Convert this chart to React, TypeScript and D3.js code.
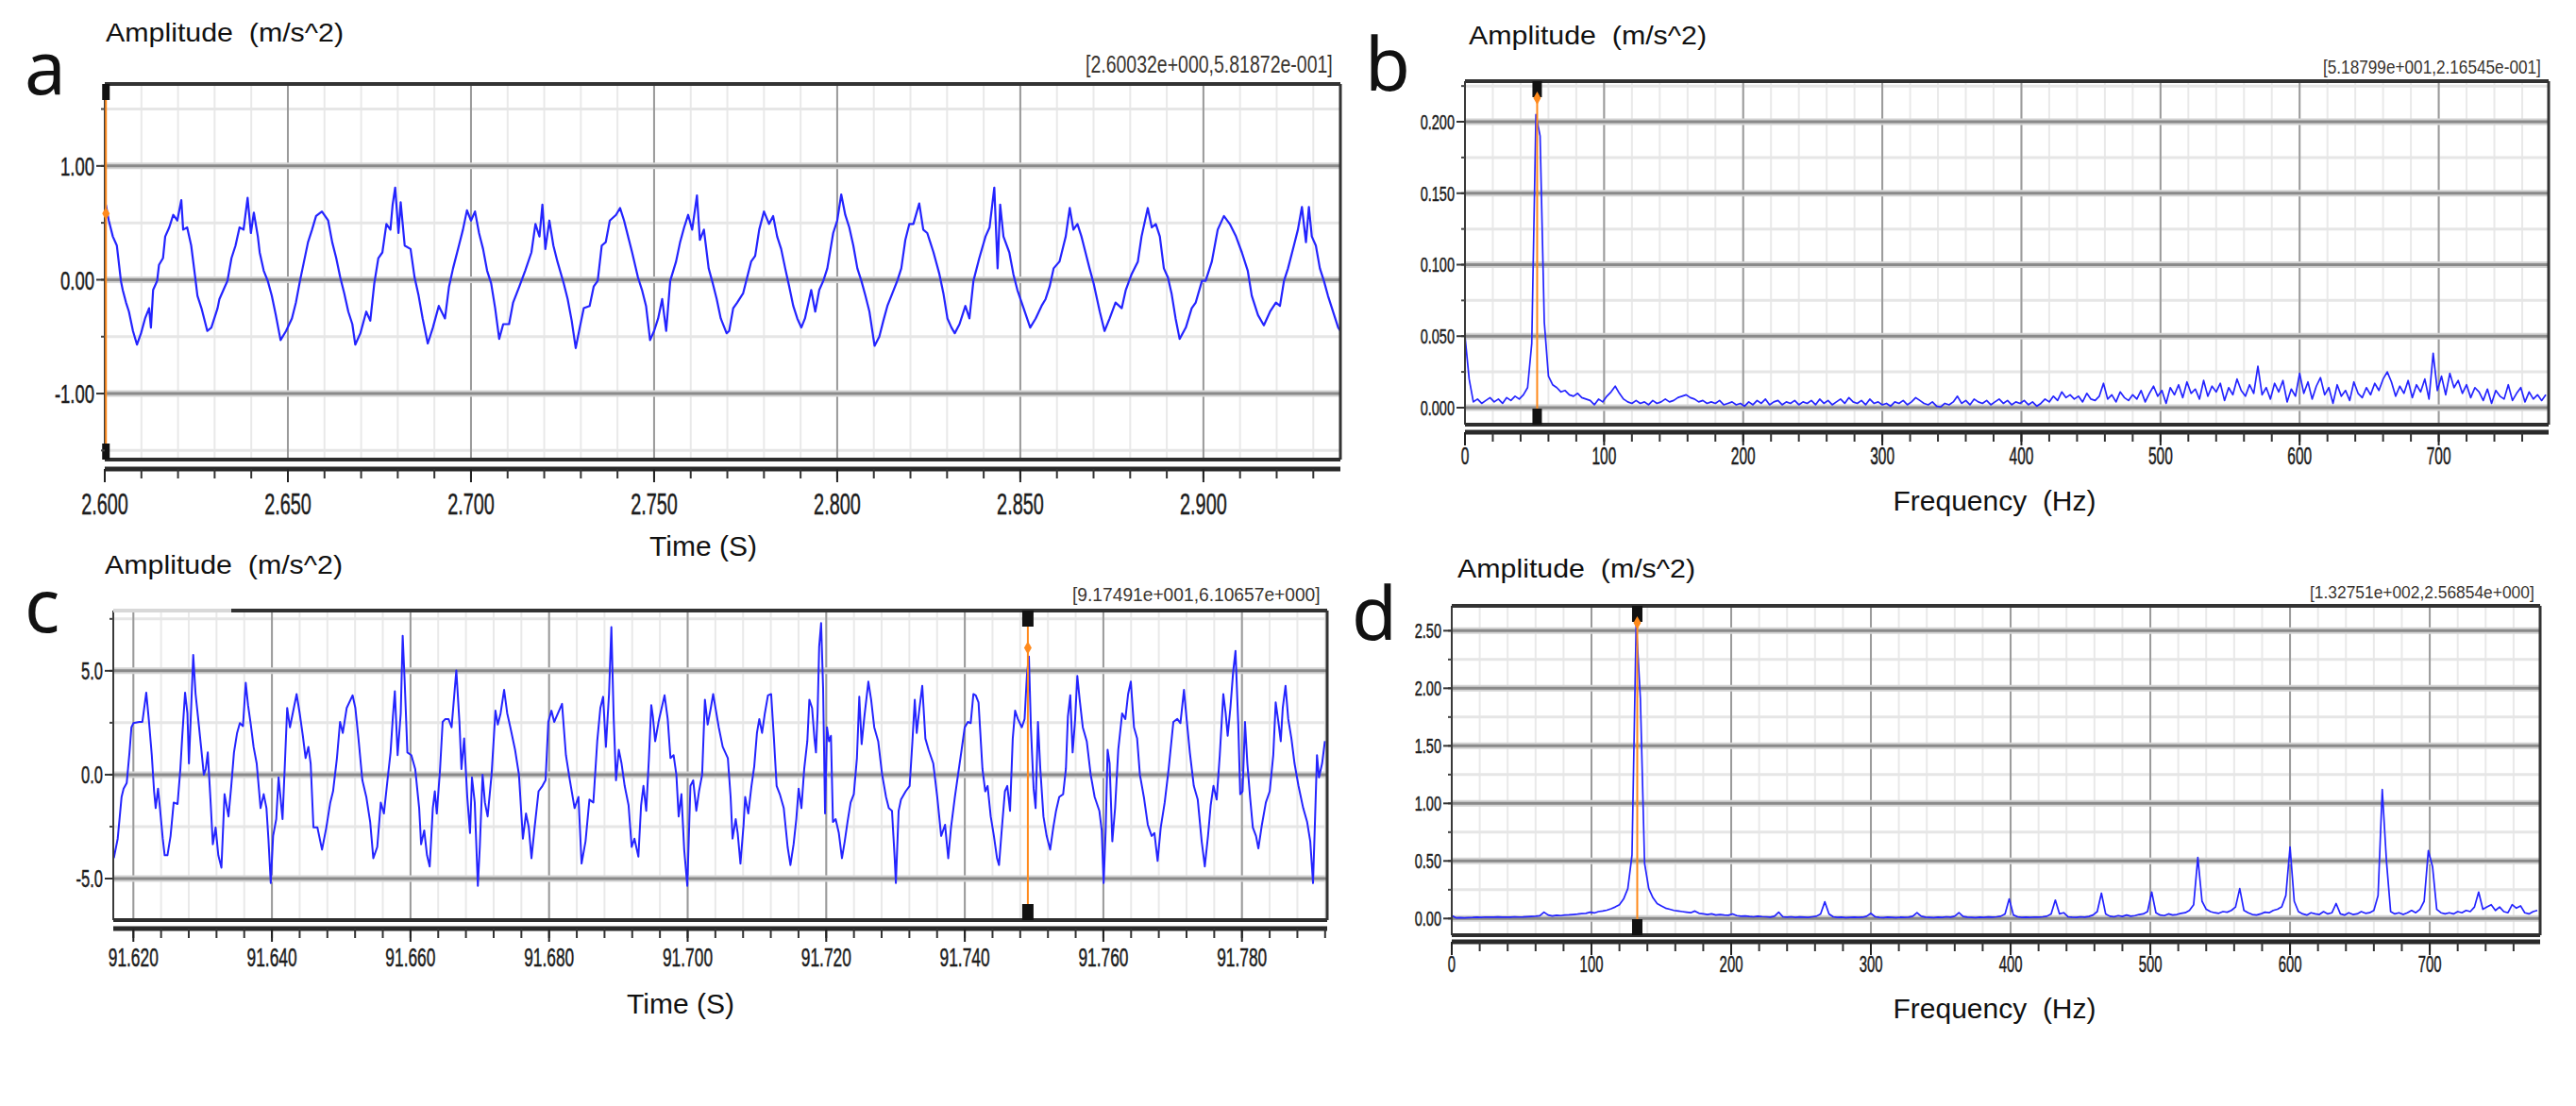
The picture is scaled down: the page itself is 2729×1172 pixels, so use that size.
import React from 'react';
import * as d3 from 'd3';

const W = 2729;
const H = 1172;

// ---------- panel a : time signal, ms after 2.600 s ----------
const msA = [
  0.3, 1.1, 2.2, 3.3, 3.8, 4.4, 4.9, 5.8, 6.6, 7.7, 8.8, 9.9, 11.0, 12.1, 12.6, 13.2, 14.3, 14.8, 15.9, 16.5,
  17.6, 18.7, 19.8, 20.9, 21.4, 22.5, 23.6, 24.7, 25.3, 26.4, 28.0, 29.1, 30.8, 31.3, 32.4, 33.5, 34.6, 35.7, 36.8, 37.9,
  39.0, 39.9, 40.7, 41.8, 42.3, 43.4, 44.5, 45.6, 46.7, 48.0, 49.5, 51.1, 52.2, 53.3, 54.4, 55.5, 56.6, 57.7, 59.3, 61.0,
  62.1, 63.2, 64.3, 65.4, 66.5, 67.6, 68.4, 69.8, 71.4, 72.5, 73.6, 74.7, 75.8, 76.9, 78.0, 78.6, 79.3, 80.2, 80.8, 81.9,
  83.5, 84.6, 85.7, 86.8, 88.2, 89.6, 91.2, 92.9, 94.0, 95.1, 96.7, 97.8, 98.9, 100.0, 101.1, 102.2, 103.3, 104.4, 105.5, 106.6,
  107.7, 108.8, 110.4, 111.5, 113.2, 114.8, 116.5, 117.6, 118.7, 119.5, 120.3, 121.4, 122.5, 123.6, 125.3, 126.4, 127.5, 128.6, 129.7, 130.8,
  132.4, 133.5, 134.6, 135.7, 136.8, 137.9, 139.6, 140.7, 141.8, 142.9, 144.0, 145.6, 146.7, 147.8, 148.9, 150.0, 151.1, 152.2, 153.3, 154.4,
  156.0, 157.1, 158.2, 159.3, 160.4, 161.7, 162.5, 163.6, 164.9, 166.0, 167.1, 168.2, 169.8, 170.5, 171.6, 172.7, 174.3, 175.4, 176.5, 177.6,
  178.7, 180.0, 181.4, 182.5, 183.6, 184.7, 185.8, 186.9, 188.0, 189.1, 190.2, 191.2, 192.9, 194.0, 195.1, 196.2, 197.3, 198.9, 200.0, 201.1,
  202.2, 203.3, 204.4, 205.5, 206.6, 207.7, 208.8, 210.2, 211.5, 212.6, 213.7, 214.8, 216.4, 217.5, 218.6, 219.7, 220.8, 222.4, 223.5, 224.6,
  226.3, 227.9, 229.0, 230.1, 231.2, 232.1, 233.4, 235.0, 236.1, 237.2, 238.8, 240.5, 241.6, 242.9, 243.8, 244.5, 245.4, 247.0, 248.1, 249.2,
  250.9, 252.7, 254.2, 255.8, 256.9, 258.0, 259.1, 260.7, 262.4, 263.5, 264.5, 265.6, 266.7, 267.8, 268.9, 270.0, 271.7, 273.0, 274.4, 276.0,
  277.7, 278.8, 280.4, 282.1, 283.1, 284.8, 285.9, 287.0, 288.1, 289.2, 290.3, 291.3, 292.4, 293.5, 295.2, 296.8, 297.9, 299.6, 300.6, 302.3,
  303.9, 305.6, 307.2, 308.9, 310.5, 312.1, 313.2, 314.9, 316.5, 318.2, 319.8, 320.9, 322.0, 323.1, 324.7, 325.8, 326.9, 328.0, 328.8, 329.6,
  330.7, 331.8, 332.9, 334.0, 335.7, 336.8, 337.4,
];
const accA = [
  0.66, 0.52, 0.38, 0.30, 0.16, -0.01, -0.09, -0.20, -0.28, -0.45, -0.57, -0.47, -0.34, -0.25, -0.42, -0.09, -0.01, 0.13, 0.19, 0.38,
  0.46, 0.57, 0.52, 0.70, 0.44, 0.46, 0.30, 0.02, -0.14, -0.25, -0.45, -0.42, -0.25, -0.17, -0.09, -0.01, 0.19, 0.30, 0.46, 0.44,
  0.72, 0.41, 0.59, 0.38, 0.24, 0.08, -0.01, -0.14, -0.31, -0.53, -0.45, -0.34, -0.20, -0.01, 0.16, 0.33, 0.44, 0.56, 0.60, 0.52,
  0.33, 0.19, 0.02, -0.12, -0.28, -0.39, -0.57, -0.47, -0.28, -0.36, -0.03, 0.19, 0.24, 0.49, 0.44, 0.66, 0.81, 0.41, 0.68, 0.30,
  0.27, 0.02, -0.14, -0.34, -0.56, -0.42, -0.23, -0.34, -0.06, 0.10, 0.30, 0.44, 0.61, 0.52, 0.60, 0.41, 0.27, 0.08, -0.03, -0.25,
  -0.52, -0.39, -0.39, -0.20, -0.06, 0.08, 0.24, 0.49, 0.38, 0.66, 0.27, 0.52, 0.30, 0.16, -0.03, -0.17, -0.36, -0.60, -0.42, -0.25,
  -0.23, -0.06, -0.01, 0.30, 0.33, 0.52, 0.57, 0.63, 0.52, 0.38, 0.24, 0.02, -0.09, -0.23, -0.53, -0.45, -0.34, -0.17, -0.45, -0.01,
  0.16, 0.33, 0.46, 0.57, 0.44, 0.74, 0.35, 0.44, 0.10, -0.03, -0.17, -0.34, -0.47, -0.45, -0.25, -0.20, -0.12, 0.02, 0.16, 0.21,
  0.44, 0.60, 0.49, 0.56, 0.38, 0.27, 0.10, -0.06, -0.23, -0.34, -0.42, -0.34, -0.09, -0.28, -0.09, -0.01, 0.10, 0.41, 0.52, 0.75,
  0.57, 0.46, 0.30, 0.10, -0.01, -0.14, -0.28, -0.58, -0.50, -0.36, -0.23, -0.14, -0.01, 0.10, 0.35, 0.49, 0.49, 0.67, 0.44, 0.41,
  0.24, 0.05, -0.12, -0.34, -0.42, -0.47, -0.39, -0.23, -0.34, -0.01, 0.19, 0.38, 0.46, 0.81, 0.10, 0.66, 0.38, 0.24, 0.05, -0.09,
  -0.25, -0.42, -0.34, -0.23, -0.17, -0.06, 0.10, 0.16, 0.38, 0.63, 0.44, 0.49, 0.38, 0.24, 0.10, -0.03, -0.28, -0.45, -0.34, -0.20,
  -0.25, -0.09, 0.05, 0.16, 0.38, 0.63, 0.46, 0.49, 0.38, 0.10, 0.02, -0.12, -0.34, -0.52, -0.42, -0.25, -0.20, -0.01, -0.01, 0.16,
  0.44, 0.56, 0.49, 0.38, 0.24, 0.08, -0.14, -0.31, -0.40, -0.28, -0.20, -0.23, -0.01, 0.10, 0.30, 0.44, 0.64, 0.33, 0.64, 0.38,
  0.30, 0.10, -0.01, -0.14, -0.31, -0.42, -0.45,
];
const timeTicksA = [0, 50, 100, 150, 200, 250, 300];
const timeLabelsA = ['2.600', '2.650', '2.700', '2.750', '2.800', '2.850', '2.900'];
const ampTicksA = [1, 0, -1];
const ampLabelsA = ['1.00', '0.00', '-1.00'];

// ---------- panel b : spectrum of a, 3 Hz bins ----------
const binHz = 3;
const specB = [
  0.050, 0.020, 0.004, 0.006, 0.003, 0.005, 0.007, 0.004, 0.006, 0.003,
  0.007, 0.005, 0.008, 0.006, 0.009, 0.014, 0.045, 0.205, 0.190, 0.060,
  0.022, 0.016, 0.014, 0.011, 0.012, 0.009, 0.008, 0.010, 0.007, 0.006,
  0.005, 0.002, 0.006, 0.004, 0.008, 0.011, 0.015, 0.010, 0.006, 0.004,
  0.003, 0.005, 0.003, 0.004, 0.002, 0.005, 0.003, 0.004, 0.006, 0.004,
  0.005, 0.007, 0.008, 0.009, 0.007, 0.006, 0.004, 0.005, 0.003, 0.004,
  0.003, 0.005, 0.002, 0.003, 0.004, 0.002, 0.003, 0.001, 0.004, 0.002,
  0.005, 0.003, 0.006, 0.002, 0.004, 0.005, 0.002, 0.004, 0.003, 0.005,
  0.002, 0.004, 0.003, 0.005, 0.002, 0.006, 0.003, 0.005, 0.002, 0.004,
  0.006, 0.003, 0.007, 0.004, 0.003, 0.005, 0.002, 0.006, 0.003, 0.004,
  0.002, 0.003, 0.001, 0.004, 0.003, 0.005, 0.002, 0.004, 0.007, 0.005,
  0.003, 0.002, 0.004, 0.001, 0.0005, 0.003, 0.002, 0.004, 0.008, 0.003,
  0.005, 0.002, 0.006, 0.004, 0.003, 0.005, 0.002, 0.004, 0.006, 0.003,
  0.005, 0.002, 0.004, 0.003, 0.005, 0.002, 0.004, 0.001, 0.003, 0.006,
  0.004, 0.008, 0.005, 0.011, 0.007, 0.009, 0.006, 0.008, 0.004, 0.010,
  0.006, 0.005, 0.008, 0.017, 0.006, 0.009, 0.004, 0.011, 0.007, 0.005,
  0.009, 0.006, 0.012, 0.004, 0.010, 0.015, 0.008, 0.012, 0.003, 0.014,
  0.009, 0.016, 0.007, 0.018, 0.010, 0.013, 0.006, 0.019, 0.008, 0.015,
  0.011, 0.017, 0.005, 0.014, 0.009, 0.020, 0.012, 0.008, 0.016, 0.010,
  0.029, 0.009, 0.014, 0.006, 0.017, 0.011, 0.019, 0.004, 0.013, 0.008,
  0.024, 0.010, 0.018, 0.006, 0.015, 0.021, 0.009, 0.014, 0.003, 0.016,
  0.008, 0.012, 0.005, 0.018, 0.010, 0.007, 0.014, 0.009, 0.017, 0.012,
  0.020, 0.025, 0.018, 0.008, 0.015, 0.010, 0.019, 0.007, 0.016, 0.011,
  0.020, 0.006, 0.038, 0.012, 0.022, 0.009, 0.024, 0.014, 0.019, 0.010,
  0.016, 0.007, 0.014, 0.011, 0.005, 0.013, 0.003, 0.012, 0.008, 0.006,
  0.016, 0.005, 0.010, 0.014, 0.004, 0.011, 0.006, 0.009, 0.005, 0.009,
];
const freqTicks = [0, 100, 200, 300, 400, 500, 600, 700];
const freqLabels = ['0', '100', '200', '300', '400', '500', '600', '700'];
const ampTicksB = [0.2, 0.15, 0.1, 0.05, 0];
const ampLabelsB = ['0.200', '0.150', '0.100', '0.050', '0.000'];

// ---------- panel c : time signal, ms after 91.600 s ----------
const msC = [
  17.18, 17.74, 18.30, 18.59, 19.04, 19.44, 19.72, 20.00, 20.85, 21.30, 21.86, 22.26, 22.66, 22.99, 23.22, 23.56, 23.84, 24.24, 24.52, 24.92,
  25.37, 25.82, 26.38, 26.78, 27.06, 27.46, 27.80, 28.02, 28.31, 28.64, 28.98, 29.32, 29.77, 30.17, 30.45, 30.74, 31.13, 31.47, 31.87, 32.26,
  32.71, 33.16, 33.73, 34.13, 34.52, 34.97, 35.37, 35.82, 36.22, 36.55, 36.95, 37.35, 37.80, 38.36, 38.81, 39.21, 39.49, 39.83, 40.17, 40.62,
  40.96, 41.19, 41.53, 41.87, 42.20, 42.60, 43.00, 43.56, 44.01, 44.46, 44.86, 45.26, 45.59, 45.99, 46.56, 47.23, 47.85, 48.42, 48.82, 49.38,
  49.83, 50.23, 50.79, 51.64, 52.04, 52.49, 53.05, 53.62, 54.18, 54.63, 55.20, 55.71, 56.16, 56.72, 57.12, 57.46, 57.74, 58.14, 58.59, 58.87,
  59.15, 59.55, 60.12, 60.68, 61.25, 61.53, 61.98, 62.38, 62.77, 63.22, 63.51, 63.79, 64.24, 64.64, 65.03, 65.48, 65.93, 66.61, 67.06, 67.35,
  67.74, 68.19, 68.59, 68.87, 69.27, 69.72, 70.00, 70.40, 70.74, 71.13, 71.70, 72.26, 72.60, 73.00, 73.51, 73.96, 74.41, 75.09, 75.65, 76.22,
  76.67, 77.07, 77.46, 77.91, 78.48, 79.04, 79.49, 79.89, 80.34, 80.74, 81.87, 82.43, 83.00, 83.68, 84.24, 84.69, 85.26, 85.82, 86.39, 86.95,
  87.40, 87.80, 88.20, 88.65, 88.99, 89.33, 89.66, 90.06, 90.46, 90.91, 91.47, 91.92, 92.32, 92.89, 93.28, 93.62, 94.02, 94.41, 94.75, 94.98,
  95.31, 95.88, 96.67, 97.12, 97.52, 97.97, 98.37, 98.70, 99.10, 99.50, 99.95, 100.40, 100.80, 101.25, 101.64, 102.09, 102.49, 102.89, 103.34, 103.68,
  104.49, 105.06, 105.80, 106.20, 106.48, 106.94, 107.22, 107.62, 108.07, 108.30, 108.75, 109.21, 109.61, 110.00, 110.34, 110.74, 111.14, 111.59, 112.05, 112.45,
  112.84, 113.30, 113.87, 114.43, 114.83, 115.29, 115.68, 116.02, 116.42, 116.82, 117.27, 117.56, 117.96, 118.30, 118.52, 118.75, 118.98, 119.26, 119.55, 119.83,
  120.11, 120.40, 120.68, 120.97, 121.36, 121.82, 122.27, 122.67, 123.07, 123.52, 123.98, 124.43, 124.77, 125.11, 125.51, 126.08, 126.48, 126.93, 127.50, 128.07,
  128.63, 129.03, 129.49, 129.88, 130.05, 130.45, 130.79, 131.47, 132.04, 132.44, 132.78, 133.06, 133.46, 133.86, 134.31, 134.77, 135.45, 136.02, 136.59, 137.15,
  137.61, 138.01, 138.57, 139.14, 139.54, 139.99, 140.45, 140.85, 141.24, 141.58, 141.98, 142.55, 142.95, 143.29, 143.74, 144.20, 144.65, 144.94, 145.39, 145.79,
  146.13, 146.53, 146.92, 147.26, 147.66, 148.23, 148.63, 148.97, 149.25, 149.54, 149.93, 150.22, 150.56, 150.90, 151.35, 151.81, 152.32, 152.77, 153.17, 153.63,
  154.19, 154.59, 154.88, 155.22, 155.56, 155.90, 156.24, 156.58, 157.03, 157.60, 158.17, 158.74, 159.42, 159.76, 160.04, 160.33, 160.61, 160.90, 161.29, 161.69,
  162.15, 162.71, 163.17, 163.57, 163.96, 164.42, 164.87, 165.27, 165.84, 166.41, 166.97, 167.37, 167.83, 168.28, 168.85, 169.42, 170.10, 170.67, 171.12, 171.63,
  172.09, 172.48, 173.05, 173.62, 174.19, 174.64, 175.10, 175.49, 175.89, 176.35, 176.80, 177.31, 177.65, 177.94, 178.33, 178.73, 179.07, 179.47, 179.75, 180.09,
  180.44, 180.78, 181.17, 181.57, 182.03, 182.37, 182.88, 183.45, 184.01, 184.52, 184.87, 185.26, 185.60, 185.89, 186.29, 186.68, 187.14, 187.59, 188.16, 188.84,
  189.41, 189.86, 190.26, 190.55, 190.83, 191.12, 191.57, 191.97,
];
const accC = [
  -4.02, -3.08, -1.07, -0.67, -0.40, 1.07, 2.28, 2.48, 2.54, 2.54, 3.95, 2.54, 0.94, -0.80, -1.61, -0.67, -1.61, -3.08, -3.88, -3.88,
  -2.95, -1.34, -1.41, 0.27, 1.87, 3.95, 2.95, 0.54, 2.95, 5.76, 3.88, 2.81, 1.34, 0, 0.27, 1.07, -1.20, -3.35, -2.54, -3.88,
  -4.48, -0.94, -2.01, -0.54, 1.07, 2.01, 2.48, 2.34, 4.42, 3.35, 2.41, 1.34, 0.54, -1.61, -0.94, -1.61, -3.08, -5.22, -2.95, -2.14,
  -0.13, -0.94, -2.14, 0.54, 3.21, 2.28, 2.95, 3.88, 2.95, 1.87, 0.80, 1.34, 0.54, -2.54, -2.54, -3.61, -2.54, -1.34, -0.80, 0.80,
  2.54, 2.01, 3.21, 3.82, 3.21, 1.74, -0.27, -1.07, -2.28, -4.02, -3.48, -1.34, -1.87, -0.13, 1.07, 2.81, 4.02, 0.94, 2.95, 6.69,
  4.55, 1.07, 0.94, 0.27, -1.61, -3.35, -2.68, -3.88, -4.42, -1.61, -0.80, -1.87, 0.13, 2.54, 2.68, 2.68, 2.28, 5.02, 2.54, 0.27,
  1.74, -1.07, -2.81, -0.13, -1.34, -5.35, -3.48, 0, -1.34, -2.01, 0, 3.08, 2.41, 2.95, 4.08, 2.95, 2.28, 1.20, 0, -3.08,
  -1.87, -2.54, -4.02, -2.54, -0.80, -0.54, -0.27, 2.54, 3.08, 2.54, 3.41, 0.94, -0.27, -1.61, -1.07, -4.28, -3.21, -1.20, -1.34, 1.61,
  3.21, 3.75, 1.34, 3.88, 7.10, 2.68, -0.27, 1.20, 0.54, -0.54, -1.47, -3.48, -3.08, -3.95, -1.47, -0.54, -1.74, 0.80, 3.35, 2.81,
  1.61, 2.68, 3.82, 2.68, 0.80, 0.94, 0, -2.01, -0.94, -3.61, -5.35, -0.54, -0.27, -1.74, -0.80, 0, 3.61, 2.41, 3.21, 3.88,
  2.28, 1.34, 0.80, -1.07, -3.08, -2.14, -2.81, -4.28, -2.41, -1.07, -1.87, -0.54, 0.40, 2.01, 2.68, 2.01, 2.95, 3.82, 3.88, 1.74,
  -0.54, -0.94, -1.61, -3.48, -4.35, -3.35, -2.14, -0.67, -1.61, 0.27, 1.61, 3.61, 3.21, 1.74, 1.07, 2.95, 6.16, 7.30, 4.15, -1.87,
  2.28, 1.61, 1.87, -2.28, -2.14, -2.81, -4.02, -3.21, -2.28, -1.34, -0.94, 0.80, 3.75, 1.47, 2.81, 4.48, 3.61, 2.28, 1.61, 0,
  -1.07, -1.61, -1.74, -4.02, -5.22, -1.74, -1.20, -0.80, -0.54, 1.61, 3.61, 2.01, 3.21, 4.28, 1.74, 1.20, 0.54, -1.07, -2.95, -2.41,
  -4.02, -2.54, -1.07, 0.27, 1.20, 2.28, 2.54, 2.48, 3.88, 3.82, 3.48, 0.27, -0.80, -0.54, -2.01, -2.95, -4.02, -4.35, -2.41, -0.80,
  -0.54, -1.74, 1.74, 3.08, 2.68, 2.28, 2.68, 4.82, 5.69, 2.28, -0.67, -1.61, 2.54, 0.27, -2.01, -2.95, -3.61, -2.54, -1.74, -1.07,
  -0.94, 0.27, 2.81, 3.82, 1.07, 2.54, 4.75, 3.61, 2.28, 1.61, 0, -1.07, -1.74, -2.68, -5.22, -2.68, 1.20, 0.54, -3.21, -1.61,
  1.20, 2.95, 2.68, 3.88, 4.48, 2.28, 1.74, 0, -1.07, -2.41, -2.95, -2.81, -4.15, -2.54, -1.34, 0.27, 2.54, 2.68, 2.48, 4.08,
  2.41, 1.07, -0.54, -1.20, -3.21, -4.42, -2.95, -1.47, -0.54, -1.20, 0.94, 3.88, 2.95, 1.87, 3.21, 4.95, 5.96, 2.41, -0.94, -0.80,
  2.54, 0.54, -1.07, -2.54, -2.95, -3.55, -2.41, -1.34, -0.80, 0.94, 3.48, 2.54, 1.61, 3.21, 4.28, 2.68, 1.74, 0.54, -0.54, -1.61,
  -2.28, -3.21, -5.22, -2.14, 0.94, -0.13, 0.54, 1.61,
];
const timeTicksC = [20, 40, 60, 80, 100, 120, 140, 160, 180];
const timeLabelsC = ['91.620', '91.640', '91.660', '91.680', '91.700', '91.720', '91.740', '91.760', '91.780'];
const ampTicksC = [5, 0, -5];
const ampLabelsC = ['5.0', '0.0', '-5.0'];

// ---------- panel d : spectrum of c, 3 Hz bins ----------
const specD = [
  0.025, 0.006, 0.008, 0.005, 0.007, 0.009, 0.012, 0.010, 0.013, 0.011,
  0.012, 0.014, 0.011, 0.013, 0.012, 0.015, 0.013, 0.014, 0.016, 0.018,
  0.020, 0.024, 0.055, 0.030, 0.022, 0.028, 0.025, 0.030, 0.032, 0.035,
  0.038, 0.042, 0.045, 0.055, 0.048, 0.060, 0.065, 0.072, 0.085, 0.100,
  0.120, 0.170, 0.260, 0.550, 2.570, 1.910, 0.480, 0.260, 0.180, 0.130,
  0.110, 0.090, 0.080, 0.070, 0.065, 0.060, 0.055, 0.050, 0.065, 0.045,
  0.040, 0.035, 0.040, 0.030, 0.035, 0.030, 0.028, 0.040, 0.025, 0.020,
  0.022, 0.018, 0.015, 0.020, 0.017, 0.015, 0.012, 0.020, 0.055, 0.015,
  0.012, 0.015, 0.010, 0.014, 0.012, 0.010, 0.015, 0.020, 0.040, 0.145,
  0.040, 0.015, 0.010, 0.012, 0.008, 0.010, 0.012, 0.009, 0.011, 0.020,
  0.045, 0.015, 0.010, 0.008, 0.012, 0.010, 0.007, 0.011, 0.009, 0.012,
  0.020, 0.050, 0.020, 0.012, 0.010, 0.008, 0.012, 0.010, 0.015, 0.012,
  0.020, 0.050, 0.018, 0.012, 0.010, 0.008, 0.012, 0.010, 0.014, 0.012,
  0.015, 0.020, 0.040, 0.170, 0.030, 0.015, 0.010, 0.012, 0.010, 0.013,
  0.012, 0.015, 0.020, 0.040, 0.160, 0.040, 0.050, 0.015, 0.012, 0.010,
  0.015, 0.012, 0.018, 0.030, 0.060, 0.220, 0.040, 0.020, 0.015, 0.025,
  0.018, 0.030, 0.020, 0.025, 0.035, 0.040, 0.060, 0.230, 0.050, 0.030,
  0.025, 0.040, 0.030, 0.035, 0.045, 0.050, 0.070, 0.120, 0.530, 0.150,
  0.080, 0.060, 0.050, 0.045, 0.060, 0.055, 0.070, 0.100, 0.260, 0.070,
  0.050, 0.035, 0.030, 0.040, 0.055, 0.050, 0.070, 0.080, 0.100, 0.200,
  0.620, 0.150, 0.060, 0.040, 0.030, 0.050, 0.040, 0.035, 0.060, 0.040,
  0.050, 0.130, 0.040, 0.030, 0.050, 0.035, 0.040, 0.060, 0.045, 0.050,
  0.070, 0.200, 1.120, 0.500, 0.060, 0.040, 0.050, 0.035, 0.050, 0.070,
  0.050, 0.080, 0.150, 0.590, 0.450, 0.080, 0.050, 0.040, 0.050, 0.040,
  0.060, 0.050, 0.070, 0.060, 0.100, 0.230, 0.080, 0.100, 0.120, 0.070,
  0.100, 0.060, 0.050, 0.120, 0.090, 0.110, 0.050, 0.040, 0.060, 0.070,
];
const ampTicksD = [2.5, 2, 1.5, 1, 0.5, 0];
const ampLabelsD = ['2.50', '2.00', '1.50', '1.00', '0.50', '0.00'];

const tickFont = 'Liberation Sans, Arial, sans-serif';
const BLUE = '#2424ff';
const ORANGE = '#ff8a1c';

type Box = { l: number; t: number; r: number; b: number };

type PanelProps = {
  id: string;
  letter: string;
  letterPos: [number, number];
  box: Box;
  axisGap: number;
  xDomain: [number, number];
  yDomain: [number, number];
  xs: number[];
  ys: number[];
  lineWidth: number;
  xTicks: number[];
  xLabels: string[];
  xMinor: number;
  yTicks: number[];
  yLabels: string[];
  yMinor: number;
  xLabelSize: number;
  xLabelBase: number;
  yLabelSize: number;
  title: string;
  titlePos: [number, number];
  headPos: [number, number];
  readout: string;
  readoutBox: [number, number, number, number]; // x, baseline, font size, horizontal squeeze
  cursor: [number, number];
  markerW: number;
  topLightUntil?: number;
};

function SqText(props: {
  x: number; y: number; size: number; sx?: number; anchor?: string; fill?: string; bold?: boolean; children: React.ReactNode;
}) {
  const { x, y, size, sx = 0.62, anchor = 'middle', fill = '#1c1c1c', bold = true, children } = props;
  return (
    <text
      transform={`translate(${x},${y}) scale(${sx},1)`}
      fontSize={size}
      textAnchor={anchor}
      fontFamily={tickFont}
      fill={fill}
      stroke={bold ? fill : 'none'}
      strokeWidth={bold ? 0.5 : 0}
    >
      {children}
    </text>
  );
}

function stepsIn(domain: [number, number], step: number) {
  const start = Math.ceil(domain[0] / step - 1e-9);
  const end = Math.floor(domain[1] / step + 1e-9);
  return d3.range(start, end + 1).map((k) => +(k * step).toFixed(6));
}

function Panel(p: PanelProps) {
  const { box } = p;
  const x = d3.scaleLinear().domain(p.xDomain).range([box.l, box.r]);
  const y = d3.scaleLinear().domain(p.yDomain).range([box.b, box.t]);
  const pts = p.xs.map((v, i) => [v, p.ys[i]] as [number, number]);
  const path = d3.line<[number, number]>().x((d) => x(d[0])).y((d) => y(d[1]))(pts) || '';

  const xMinor = stepsIn(p.xDomain, p.xMinor);
  const yMinor = stepsIn(p.yDomain, p.yMinor);
  const axisY = box.b + p.axisGap;
  const cx = x(p.cursor[0]);
  const cy = y(p.cursor[1]);

  return (
    <g>
      <defs>
        <clipPath id={`clip-${p.id}`}>
          <rect x={box.l} y={box.t} width={box.r - box.l} height={box.b - box.t} />
        </clipPath>
      </defs>
      <rect x={box.l} y={box.t} width={box.r - box.l} height={box.b - box.t} fill="#fff" />

      {/* minor grid */}
      {xMinor.map((v) => (
        <line key={`xm${v}`} x1={x(v)} x2={x(v)} y1={box.t} y2={box.b} stroke="#e9e9e9" strokeWidth={2} />
      ))}
      {yMinor.map((v) => (
        <line key={`ym${v}`} x1={box.l} x2={box.r} y1={y(v)} y2={y(v)} stroke="#e6e6e6" strokeWidth={3} />
      ))}
      {/* major grid */}
      {p.xTicks.map((v) => (
        <line key={`xg${v}`} x1={x(v)} x2={x(v)} y1={box.t} y2={box.b} stroke="#9a9a9a" strokeWidth={2} />
      ))}
      {p.yTicks.map((v) => (
        <g key={`yg${v}`}>
          <line x1={box.l} x2={box.r} y1={y(v)} y2={y(v)} stroke="#d4d4d4" strokeWidth={7} />
          <line x1={box.l} x2={box.r} y1={y(v)} y2={y(v)} stroke="#8a8a8a" strokeWidth={3} />
        </g>
      ))}

      {/* signal */}
      <path d={path} fill="none" stroke={BLUE} strokeWidth={p.lineWidth} strokeLinejoin="round" clipPath={`url(#clip-${p.id})`} />

      {/* frame */}
      <line x1={box.l} x2={box.l} y1={box.t} y2={box.b} stroke="#3a3a3a" strokeWidth={2} />
      <line x1={box.r} x2={box.r} y1={box.t} y2={box.b} stroke="#333" strokeWidth={3} />
      <line x1={box.l} x2={box.r} y1={box.t} y2={box.t} stroke="#333" strokeWidth={4} />
      {p.topLightUntil ? (
        <line x1={box.l} x2={p.topLightUntil} y1={box.t} y2={box.t} stroke="#d8d8d8" strokeWidth={4} />
      ) : null}
      <line x1={box.l} x2={box.r} y1={box.b} y2={box.b} stroke="#2e2e2e" strokeWidth={4} />

      {/* cursor */}
      <line x1={cx} x2={cx} y1={box.t} y2={box.b} stroke={ORANGE} strokeWidth={2} />
      <rect x={cx - p.markerW / 2} y={box.t} width={p.markerW} height={17} fill="#111" />
      <rect x={cx - p.markerW / 2} y={box.b - 17} width={p.markerW} height={17} fill="#111" />
      <path d={`M${cx},${cy - 7}L${cx + 4},${cy}L${cx},${cy + 7}L${cx - 4},${cy}Z`} fill={ORANGE} />

      {/* x axis bar */}
      <line x1={box.l} x2={box.r} y1={axisY} y2={axisY} stroke="#2a2a2a" strokeWidth={5} />
      {xMinor.map((v) => (
        <line key={`xt${v}`} x1={x(v)} x2={x(v)} y1={axisY} y2={axisY + 10} stroke="#333" strokeWidth={2} />
      ))}
      {p.xTicks.map((v, i) => (
        <g key={`xl${v}`}>
          <line x1={x(v)} x2={x(v)} y1={axisY} y2={axisY + 14} stroke="#222" strokeWidth={2} />
          <SqText x={x(v)} y={p.xLabelBase} size={p.xLabelSize}>{p.xLabels[i]}</SqText>
        </g>
      ))}

      {/* y axis ticks */}
      {yMinor.map((v) => (
        <line key={`yt${v}`} x1={box.l - 4} x2={box.l} y1={y(v)} y2={y(v)} stroke="#444" strokeWidth={2} />
      ))}
      {p.yTicks.map((v, i) => (
        <g key={`yl${v}`}>
          <line x1={box.l - 9} x2={box.l} y1={y(v)} y2={y(v)} stroke="#333" strokeWidth={2} />
          <SqText x={box.l - 11} y={y(v) + p.yLabelSize * 0.36} size={p.yLabelSize} anchor="end" sx={0.66}>
            {p.yLabels[i]}
          </SqText>
        </g>
      ))}

      {/* texts */}
      <text
        x={p.headPos[0]}
        y={p.headPos[1]}
        fontSize={28}
        fontFamily={tickFont}
        textLength={252}
        lengthAdjust="spacingAndGlyphs"
        style={{ whiteSpace: 'pre' }}
        fill="#111"
      >
        {'Amplitude  (m/s^2)'}
      </text>
      <SqText
        x={p.readoutBox[0]}
        y={p.readoutBox[1]}
        size={p.readoutBox[2]}
        sx={p.readoutBox[3]}
        anchor="start"
        fill="#3a3530"
        bold={false}
      >
        {p.readout}
      </SqText>
      <text
        x={p.titlePos[0]}
        y={p.titlePos[1]}
        fontSize={30}
        fontFamily={tickFont}
        textAnchor="middle"
        style={{ whiteSpace: 'pre' }}
        fill="#111"
      >
        {p.title}
      </text>
      <text x={p.letterPos[0]} y={p.letterPos[1]} fontSize={78} fontFamily="Noto Sans, Open Sans, sans-serif" fill="#111">
        {p.letter}
      </text>
    </g>
  );
}

export default function App() {
  const freqB = specB.map((_, i) => i * binHz);
  const freqD = specD.map((_, i) => i * binHz);
  return (
    <svg
      width={W}
      height={H}
      viewBox={`0 0 ${W} ${H}`}
      style={{ position: 'absolute', left: 0, top: 0, background: '#fff' }}
    >
      <rect width={W} height={H} fill="#fff" />
      <Panel
        id="a"
        letter="a"
        letterPos={[26, 100]}
        box={{ l: 111, t: 89, r: 1420, b: 487 }}
        axisGap={10}
        xDomain={[0, 337.4]}
        yDomain={[-1.58, 1.72]}
        xs={msA}
        ys={accA}
        lineWidth={2.2}
        xTicks={timeTicksA}
        xLabels={timeLabelsA}
        xMinor={10}
        yTicks={ampTicksA}
        yLabels={ampLabelsA}
        yMinor={0.5}
        xLabelSize={32}
        xLabelBase={545}
        yLabelSize={28}
        title="Time (S)"
        titlePos={[745, 589]}
        headPos={[112, 44]}
        readout="[2.60032e+000,5.81872e-001]"
        readoutBox={[1150, 77, 26, 0.75]}
        cursor={[0.32, 0.581872]}
        markerW={8}
      />
      <Panel
        id="b"
        letter="b"
        letterPos={[1446, 96]}
        box={{ l: 1552, t: 86, r: 2700, b: 450 }}
        axisGap={8}
        xDomain={[0, 779]}
        yDomain={[-0.0119, 0.2284]}
        xs={freqB}
        ys={specB}
        lineWidth={1.7}
        xTicks={freqTicks}
        xLabels={freqLabels}
        xMinor={20}
        yTicks={ampTicksB}
        yLabels={ampLabelsB}
        yMinor={0.025}
        xLabelSize={25}
        xLabelBase={492}
        yLabelSize={22}
        title="Frequency  (Hz)"
        titlePos={[2113, 541]}
        headPos={[1556, 47]}
        readout="[5.18799e+001,2.16545e-001]"
        readoutBox={[2461, 78, 20, 0.86]}
        cursor={[51.8799, 0.216545]}
        markerW={10}
      />
      <Panel
        id="c"
        letter="c"
        letterPos={[26, 670]}
        box={{ l: 120, t: 647, r: 1406, b: 975 }}
        axisGap={9}
        xDomain={[17.1, 192.3]}
        yDomain={[-7.0, 7.9]}
        xs={msC}
        ys={accC}
        lineWidth={2}
        xTicks={timeTicksC}
        xLabels={timeLabelsC}
        xMinor={4}
        yTicks={ampTicksC}
        yLabels={ampLabelsC}
        yMinor={2.5}
        xLabelSize={28}
        xLabelBase={1024}
        yLabelSize={25}
        title="Time (S)"
        titlePos={[721, 1074]}
        headPos={[111, 608]}
        readout="[9.17491e+001,6.10657e+000]"
        readoutBox={[1136, 637, 21, 0.915]}
        cursor={[149.1, 6.10657]}
        markerW={12}
        topLightUntil={245}
      />
      <Panel
        id="d"
        letter="d"
        letterPos={[1432, 678]}
        box={{ l: 1538, t: 642, r: 2691, b: 991 }}
        axisGap={7}
        xDomain={[0, 779]}
        yDomain={[-0.145, 2.716]}
        xs={freqD}
        ys={specD}
        lineWidth={1.7}
        xTicks={freqTicks}
        xLabels={freqLabels}
        xMinor={20}
        yTicks={ampTicksD}
        yLabels={ampLabelsD}
        yMinor={0.25}
        xLabelSize={24}
        xLabelBase={1030}
        yLabelSize={22}
        title="Frequency  (Hz)"
        titlePos={[2113, 1079]}
        headPos={[1544, 612]}
        readout="[1.32751e+002,2.56854e+000]"
        readoutBox={[2447, 634, 19, 0.915]}
        cursor={[132.751, 2.56854]}
        markerW={11}
      />
    </svg>
  );
}
